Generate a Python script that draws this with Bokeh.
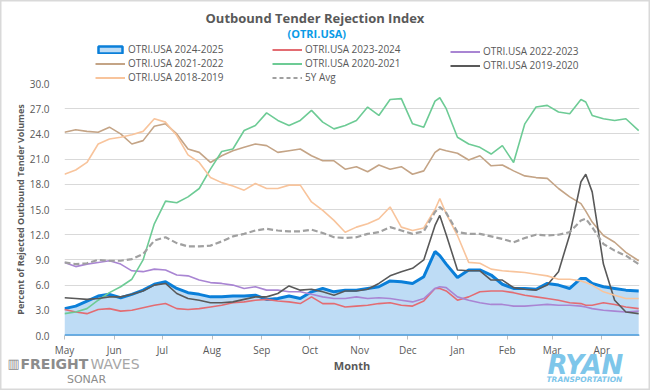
from bokeh.plotting import figure
from bokeh.models import (ColumnDataSource, Range1d, FixedTicker, NumeralTickFormatter,
                          Legend, LegendItem, Label, Span)
from bokeh.embed import file_html
from bokeh.resources import INLINE

# ---------------- data (day offset from May 1) ----------------
days = [0, 7, 14, 21, 28, 35, 42, 49, 56, 63,
        70, 77, 84, 91, 98, 105, 112, 119, 126, 133,
        140, 147, 154, 161, 168, 175, 182, 189, 196, 203,
        210, 217, 224, 231, 234, 238, 245, 252, 259, 266,
        273, 280, 287, 294, 301, 308, 315, 322, 325, 329,
        336, 343, 350, 358]

month_ticks = [0, 31, 61, 92, 123, 153, 184, 214, 245, 276, 304, 335]
month_labels = ["May", "Jun", "Jul", "Aug", "Sep", "Oct", "Nov", "Dec", "Jan", "Feb", "Mar", "Apr"]
y_ticks = [0, 3, 6, 9, 12, 15, 18, 21, 24, 27, 30]

otri_2024_2025 = [3.2, 3.5, 4.1, 4.7, 4.9, 4.5, 4.9, 5.4, 6.1, 6.4,
                  5.6, 5.1, 4.9, 4.6, 4.6, 4.7, 4.7, 4.8, 4.3, 4.4,
                  4.7, 4.4, 5.2, 5.6, 5.2, 5.4, 5.4, 5.6, 5.8, 6.5,
                  6.4, 6.2, 7.0, 10.0, 9.5, 8.5, 6.9, 7.8, 7.8, 7.2,
                  6.1, 5.6, 5.6, 5.5, 6.2, 6.0, 5.6, 6.8, 6.8, 6.2,
                  5.8, 5.6, 5.4, 5.3]
otri_2023_2024 = [3.1, 2.8, 2.6, 3.1, 3.2, 2.9, 3.0, 3.3, 3.6, 3.8,
                  3.2, 3.1, 3.2, 3.4, 3.6, 3.9, 4.0, 4.2, 4.3, 4.1,
                  4.0, 3.8, 4.6, 3.8, 3.8, 3.4, 3.5, 3.6, 3.8, 3.9,
                  3.6, 3.5, 4.1, 5.6, 5.6, 5.3, 4.2, 4.6, 5.2, 5.3,
                  5.3, 5.1, 4.8, 4.6, 4.4, 4.2, 3.9, 3.8, 3.6, 3.6,
                  3.9, 3.7, 3.4, 3.2]
otri_2022_2023 = [8.7, 8.2, 8.5, 8.7, 8.9, 8.5, 7.7, 7.6, 7.9, 7.8,
                  7.2, 7.1, 6.6, 6.3, 6.2, 6.0, 5.6, 5.8, 5.4, 5.4,
                  5.2, 5.2, 4.9, 4.6, 4.4, 4.4, 4.6, 4.4, 4.5, 4.4,
                  4.2, 4.0, 4.4, 5.6, 5.8, 5.7, 4.6, 4.2, 3.9, 3.7,
                  3.7, 3.5, 3.5, 3.6, 3.7, 3.6, 3.6, 3.5, 3.4, 3.2,
                  3.0, 2.9, 2.8, 2.9]
otri_2021_2022 = [24.2, 24.5, 24.3, 24.2, 24.8, 24.0, 22.8, 23.2, 24.9, 25.2,
                  24.0, 22.2, 21.8, 20.6, 21.4, 22.0, 22.4, 22.8, 22.6, 21.8,
                  22.0, 22.2, 21.4, 20.8, 20.8, 19.8, 20.1, 19.5, 20.3, 19.8,
                  20.1, 19.2, 19.6, 21.8, 22.2, 22.0, 21.7, 20.9, 21.4, 20.2,
                  20.3, 19.6, 19.0, 18.8, 18.7, 17.5, 16.5, 15.7, 14.8, 13.5,
                  11.9, 11.1, 9.9, 8.9]
otri_2020_2021 = [2.6, 2.8, 3.2, 4.2, 5.1, 5.8, 6.7, 9.0, 13.3, 16.0,
                  15.8, 16.5, 17.5, 19.8, 21.9, 22.2, 24.4, 25.0, 26.5, 25.6,
                  25.0, 25.6, 26.8, 25.4, 24.6, 25.0, 25.6, 27.2, 26.2, 28.1,
                  28.2, 25.2, 24.8, 27.9, 28.3, 27.0, 23.6, 22.8, 22.4, 21.6,
                  22.6, 20.6, 25.2, 27.2, 27.4, 26.6, 26.4, 28.1, 27.8, 26.2,
                  25.8, 25.6, 25.8, 24.4]
otri_2019_2020 = [4.5, 4.4, 4.3, 4.4, 4.6, 4.6, 4.9, 5.3, 6.0, 6.2,
                  5.0, 4.4, 4.2, 3.9, 3.9, 4.0, 4.3, 4.6, 4.6, 5.0,
                  5.9, 5.4, 5.5, 5.2, 4.8, 5.3, 5.3, 5.5, 6.2, 7.1,
                  7.6, 8.0, 9.0, 13.1, 14.3, 12.0, 7.8, 7.7, 7.7, 6.6,
                  6.6, 5.7, 5.5, 5.4, 6.0, 7.6, 12.0, 18.3, 19.2, 17.1,
                  8.5, 4.2, 2.8, 2.6]
otri_2018_2019 = [19.2, 19.7, 20.6, 22.8, 23.4, 23.6, 23.9, 24.3, 25.8, 25.4,
                  23.8, 21.5, 20.6, 18.8, 18.2, 17.8, 17.3, 18.1, 17.5, 17.5,
                  17.9, 17.9, 15.9, 14.9, 13.7, 12.3, 12.9, 13.3, 13.9, 15.3,
                  12.9, 12.5, 12.8, 15.0, 16.3, 14.5, 11.9, 8.7, 8.6, 7.9,
                  7.7, 7.6, 7.5, 7.3, 7.1, 6.7, 6.7, 6.5, 6.3, 6.0,
                  5.2, 4.8, 4.4, 4.4]
avg_5y = [8.7, 8.5, 8.6, 9.0, 8.9, 8.9, 9.1, 9.7, 11.3, 11.7,
          11.0, 10.6, 10.6, 10.7, 11.2, 11.8, 12.1, 12.5, 12.7, 12.5,
          12.4, 12.4, 12.6, 12.2, 11.7, 11.6, 11.7, 12.1, 12.3, 12.9,
          12.5, 12.1, 12.4, 14.7, 15.3, 14.6, 12.3, 12.1, 12.1, 11.8,
          11.5, 11.1, 11.6, 12.0, 11.9, 12.0, 12.3, 13.7, 13.9, 12.9,
          10.9, 10.1, 9.5, 8.5]

# ---------------- styling ----------------
FONT = "Open Sans"
TXT = "#595959"
BLUE = "#0A7FD9"
BLUE_FILL = "#BEDCF5"
GRID = "#D9D9D9"
C2324, C2223, C2122 = "#E36C72", "#A985D3", "#C4A486"
C2021, C1920, C1819, C5Y = "#6DCB95", "#595959", "#F8C49C", "#A0A0A0"
LOGO_BLUE = "#7EC6EA"

W, H = 650, 390
SHIFT = 10                               # main plot pushed right, its left panel narrower
FL, FR, FT, FB = 56 - SHIFT, 11, 83, 55  # main-plot frame borders
NAN = float("nan")

# ---------------- background figure: titles, legend, logos ----------------
bg = figure(width=W, height=H, output_backend="svg", toolbar_location=None,
            x_range=Range1d(0, W), y_range=Range1d(H, 0),
            x_axis_type=None, y_axis_type=None,
            min_border_left=0, min_border_right=0, min_border_top=0, min_border_bottom=0)
bg.outline_line_color = "#D9D9D9"
bg.outline_line_width = 2
bg.xgrid.grid_line_color = None
bg.ygrid.grid_line_color = None
bg.background_fill_color = "white"
bg.border_fill_color = "white"

def label(text, X, Y, size, color, style="normal", align="left", font=FONT):
    bg.add_layout(Label(x=X, y=Y, text=text, text_align=align, text_baseline="middle",
                        text_font=font, text_font_size=size, text_color=color,
                        text_font_style=style))

label("Outbound Tender Rejection Index", 205, 17, "13px", TXT, "bold")
label("(OTRI.USA)", 287, 33, "11px", "#0A9BE6", "bold")

label("\u25A5", 7, 363, "13px", "#8C8C8C", font="DejaVu Sans")
label("FREIGHT", 20, 363, "14px", "#8C8C8C", "bold", font="DejaVu Sans")
label("WAVES", 90, 363, "14px", "#A6A6A6", font="DejaVu Sans")
label("SONAR", 86, 379, "11px", "#8C8C8C", align="center", font="DejaVu Sans")
label("RYAN", 547, 364, "26px", LOGO_BLUE, "bold italic", font="DejaVu Sans")
label("TRANSPORTATION", 546, 379, "7.5px", LOGO_BLUE, "bold italic", font="DejaVu Sans")

# legend swatches (same styles as the series; no visible marks of their own)
def swatch(**kw):
    return bg.line(x=[NAN], y=[NAN], **kw)

lg_2425 = bg.quad(left=[NAN], right=[NAN], top=[NAN], bottom=[NAN],
                  fill_color=BLUE_FILL, line_color=BLUE, line_width=2.5)
lg_2324 = swatch(line_color=C2324, line_width=2)
lg_2223 = swatch(line_color=C2223, line_width=2)
lg_2122 = swatch(line_color=C2122, line_width=2)
lg_2021 = swatch(line_color=C2021, line_width=2)
lg_1920 = swatch(line_color=C1920, line_width=2)
lg_1819 = swatch(line_color=C1819, line_width=2)
lg_5y = swatch(line_color=C5Y, line_width=2, line_dash="4 3")

def make_legend(items, x, y_bottom):
    lg = Legend(items=items, location=(x, H - y_bottom), orientation="vertical",
                padding=0, margin=0, spacing=0, glyph_width=30, glyph_height=9,
                label_height=12, label_standoff=3, label_text_font=FONT,
                label_text_font_size="10px", label_text_color=TXT,
                border_line_color=None, background_fill_alpha=0)
    bg.add_layout(lg)

make_legend([LegendItem(label="OTRI.USA 2024-2025", renderers=[lg_2425]),
             LegendItem(label="OTRI.USA 2021-2022", renderers=[lg_2122]),
             LegendItem(label="OTRI.USA 2018-2019", renderers=[lg_1819])], 95, 84)
make_legend([LegendItem(label="OTRI.USA 2023-2024", renderers=[lg_2324]),
             LegendItem(label="OTRI.USA 2020-2021", renderers=[lg_2021]),
             LegendItem(label="5Y Avg", renderers=[lg_5y])], 272, 84)
make_legend([LegendItem(label="OTRI.USA 2022-2023", renderers=[lg_2223]),
             LegendItem(label="OTRI.USA 2019-2020", renderers=[lg_1920])], 450, 72)

# ---------------- main chart (overlaid on the background) ----------------
p = figure(width=W - SHIFT, height=H, output_backend="svg", toolbar_location=None,
           x_range=Range1d(0, 358.5), y_range=Range1d(0, 30),
           min_border_left=FL, min_border_right=FR, min_border_top=FT,
           min_border_bottom=FB, margin=(-H, 0, 0, SHIFT))
p.outline_line_color = None
p.background_fill_alpha = 0
p.border_fill_alpha = 0
p.xgrid.grid_line_color = None
p.ygrid.grid_line_color = GRID
p.ygrid.grid_line_width = 1

src = ColumnDataSource(dict(x=days, y2425=otri_2024_2025, y2324=otri_2023_2024,
                            y2223=otri_2022_2023, y2122=otri_2021_2022,
                            y2021=otri_2020_2021, y1920=otri_2019_2020,
                            y1819=otri_2018_2019, y5=avg_5y))

p.varea(x="x", y1=0, y2="y2425", source=src, fill_color=BLUE_FILL)
p.add_layout(Span(location=0, dimension="width", line_color=BLUE, line_width=2))
p.line("x", "y2425", source=src, line_color=BLUE, line_width=3)

p.line("x", "y2324", source=src, line_color=C2324, line_width=1.6)
p.line("x", "y2223", source=src, line_color=C2223, line_width=1.6)
p.line("x", "y2122", source=src, line_color=C2122, line_width=1.6)
p.line("x", "y2021", source=src, line_color=C2021, line_width=1.6)
p.line("x", "y1920", source=src, line_color=C1920, line_width=1.6)
p.line("x", "y1819", source=src, line_color=C1819, line_width=1.6)
p.line("x", "y5", source=src, line_color=C5Y, line_width=2.2, line_dash="6 3")

xa = p.xaxis[0]
xa.ticker = FixedTicker(ticks=month_ticks)
xa.major_label_overrides = {t: m for t, m in zip(month_ticks, month_labels)}
xa.axis_line_color = GRID
xa.major_tick_line_color = "#BFBFBF"
xa.major_tick_out = 4
xa.major_tick_in = 0
xa.minor_tick_line_color = None
xa.major_label_standoff = 3
xa.major_label_text_font = FONT
xa.major_label_text_font_size = "10px"
xa.major_label_text_color = TXT
xa.axis_label = "Month"
xa.axis_label_text_font = FONT
xa.axis_label_text_font_size = "11px"
xa.axis_label_text_font_style = "bold"
xa.axis_label_text_color = TXT
xa.axis_label_standoff = -2

ya = p.yaxis[0]
ya.ticker = FixedTicker(ticks=y_ticks)
p.ygrid.ticker = FixedTicker(ticks=y_ticks)
ya.formatter = NumeralTickFormatter(format="0.0")
ya.axis_line_color = None
ya.major_tick_line_color = None
ya.minor_tick_line_color = None
ya.major_label_standoff = 9
ya.major_label_text_font = FONT
ya.major_label_text_font_size = "10px"
ya.major_label_text_color = TXT
ya.axis_label = "Percent of Rejected Outbound Tender Volumes"
ya.axis_label_text_font = FONT
ya.axis_label_text_font_size = "9px"
ya.axis_label_text_font_style = "bold"
ya.axis_label_text_color = TXT
ya.axis_label_standoff = 0

open("out.html", "w").write(file_html([bg, p], INLINE))
